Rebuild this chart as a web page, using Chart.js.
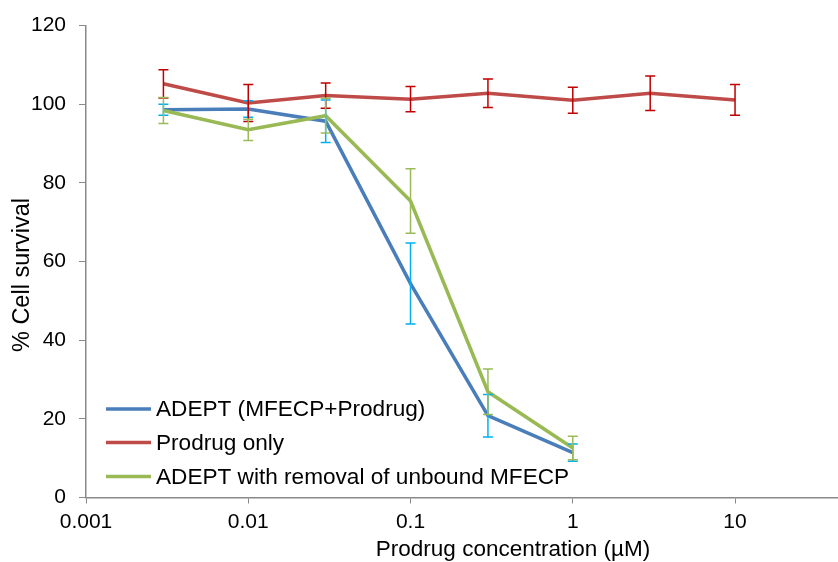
<!DOCTYPE html>
<html><head><meta charset="utf-8">
<script src="https://cdn.jsdelivr.net/npm/chart.js@4/dist/chart.umd.min.js"></script>
<style>html,body{margin:0;padding:0;background:#fff;}</style>
</head><body>
<canvas id="c" width="838" height="562"></canvas>
<script>
// Data
const concentrations = [0.003, 0.01, 0.03, 0.1, 0.3, 1, 3, 10];
const adeptValues   = [98.6, 98.8, 95.7, 54.4, 20.8, 11.4];
const adeptErrors   = [1.4, 2.1, 5.4, 10.3, 5.4, 2.2];
const prodrugValues = [105.2, 100.3, 102.2, 101.3, 102.8, 101.0, 102.8, 101.1];
const prodrugErrors = [3.6, 4.7, 3.2, 3.2, 3.6, 3.3, 4.4, 3.9];
const removalValues = [98.4, 93.5, 97.1, 75.4, 26.9, 12.6];
const removalErrors = [3.3, 2.7, 4.4, 8.2, 5.8, 3.0];
const seriesLabels = ['ADEPT (MFECP+Prodrug)', 'Prodrug only', 'ADEPT with removal of unbound MFECP'];
const xTickValues = [0.001, 0.01, 0.1, 1, 10];
const xTickLabels = ['0.001', '0.01', '0.1', '1', '10'];
const yTickValues = [0, 20, 40, 60, 80, 100, 120];
const xTitle = 'Prodrug concentration (\u00B5M)';
const yTitle = '% Cell survival';

const FONT = "'Liberation Sans', Arial, sans-serif";
const AXIS_COLOR = '#898989';

function pts(vals) { return vals.map((v, i) => ({ x: concentrations[i], y: v })); }

const errorBarPlugin = {
  id: 'errorBars',
  afterDatasetsDraw(chart) {
    const ctx = chart.ctx;
    const ys = chart.scales.y;
    chart.data.datasets.forEach((ds, di) => {
      const meta = chart.getDatasetMeta(di);
      ctx.save();
      ctx.strokeStyle = ds.errorColor;
      ctx.lineWidth = 1.5;
      meta.data.forEach((pt, i) => {
        const v = ds.data[i].y, e = ds.errors[i];
        const yt = ys.getPixelForValue(v + e), yb = ys.getPixelForValue(v - e);
        const x = pt.x, hw = 5;
        ctx.beginPath();
        ctx.moveTo(x, yt); ctx.lineTo(x, yb);
        ctx.moveTo(x - hw, yt); ctx.lineTo(x + hw, yt);
        ctx.moveTo(x - hw, yb); ctx.lineTo(x + hw, yb);
        ctx.stroke();
      });
      ctx.restore();
    });
  }
};

const legendTitlePlugin = {
  id: 'legendTitles',
  afterDraw(chart) {
    const ctx = chart.ctx, a = chart.chartArea;
    ctx.save();
    const offsets = [88.5, 55, 21];
    ctx.font = '22.6px ' + FONT;
    ctx.textBaseline = 'middle';
    ctx.textAlign = 'left';
    chart.data.datasets.forEach((ds, i) => {
      const y = a.bottom - offsets[i];
      ctx.strokeStyle = ds.borderColor;
      ctx.lineWidth = 3.5;
      ctx.beginPath();
      ctx.moveTo(a.left + 20, y); ctx.lineTo(a.left + 65, y);
      ctx.stroke();
      ctx.fillStyle = '#000';
      ctx.fillText(ds.label, a.left + 70, y + 1);
    });
    ctx.textAlign = 'center';
    ctx.font = '22.5px ' + FONT;
    ctx.fillText(xTitle, 513, 550);
    ctx.font = '23.5px ' + FONT;
    ctx.translate(23, 275);
    ctx.rotate(-Math.PI / 2);
    ctx.fillText(yTitle, 0, 0);
    ctx.restore();
  }
};

new Chart(document.getElementById('c'), {
  type: 'line',
  data: {
    datasets: [
      { label: seriesLabels[0], data: pts(adeptValues), errors: adeptErrors, borderColor: '#4A7EBB', errorColor: '#00B0F0', order: 2 },
      { label: seriesLabels[1], data: pts(prodrugValues), errors: prodrugErrors, borderColor: '#BE4B48', errorColor: '#C00000', order: 1 },
      { label: seriesLabels[2], data: pts(removalValues), errors: removalErrors, borderColor: '#98B954', errorColor: '#9BBB59', order: 0 }
    ]
  },
  options: {
    responsive: false,
    animation: false,
    elements: { line: { borderWidth: 3.5, tension: 0 }, point: { radius: 0 } },
    layout: { padding: { left: 0, right: 1, top: 25, bottom: 0 } },
    plugins: { legend: { display: false }, tooltip: { enabled: false } },
    scales: {
      x: {
        type: 'logarithmic',
        min: 0.001, max: 42.5,
        afterBuildTicks: s => { s.ticks = xTickValues.map(v => ({ value: v })); },
        afterFit: s => { s.height = 64.5; },
        ticks: { autoSkip: false, maxRotation: 0, color: '#000', font: { family: FONT, size: 21 }, padding: 6,
          callback: (v) => { const i = xTickValues.indexOf(v); return i >= 0 ? xTickLabels[i] : ''; } },
        grid: { drawOnChartArea: false, drawTicks: true, tickLength: 6, color: AXIS_COLOR, lineWidth: 1 },
        border: { display: true, color: AXIS_COLOR, width: 1.5 }
      },
      y: {
        min: 0, max: 120,
        afterBuildTicks: s => { s.ticks = yTickValues.map(v => ({ value: v })); },
        afterFit: s => { s.width = 86; },
        ticks: { color: '#000', font: { family: FONT, size: 21 }, padding: 13 },
        grid: { drawOnChartArea: false, drawTicks: true, tickLength: 7, color: AXIS_COLOR, lineWidth: 1 },
        border: { display: true, color: AXIS_COLOR, width: 1.5 }
      }
    }
  },
  plugins: [errorBarPlugin, legendTitlePlugin]
});
</script>
</body></html>
